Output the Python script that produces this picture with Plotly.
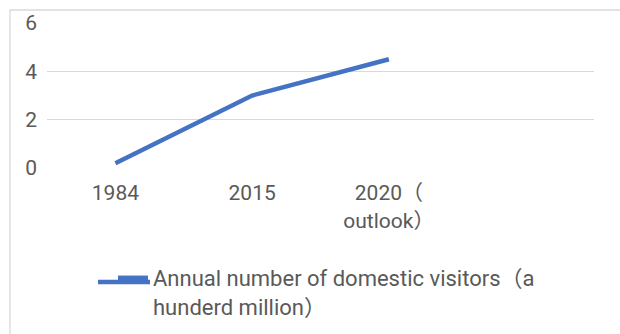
import plotly.graph_objects as go

categories = ["1984", "2015", "2020（<br>outlook）"]
values = [0.2, 3.0, 4.5]
series_name = "Annual number of domestic visitors（a<br>hunderd million）"
y_ticks = [0, 2, 4, 6]

x_idx = list(range(len(categories)))

FONT = "Roboto, Noto Sans CJK SC, sans-serif"
GREY = "#595959"
BLUE = "#4472C4"

fig = go.Figure()
fig.add_trace(go.Scatter(
    x=x_idx, y=values, mode="lines", name=series_name,
    line=dict(color=BLUE, width=4.5),
))

L, R, T, B = 47, 26, 23, 166
pw = 620 - L - R
ph = 334 - T - B

def px_x(x):
    return (x - L) / pw

def px_y(y):
    return (334 - B - y) / ph

fig.update_layout(
    width=620, height=334,
    margin=dict(l=L, r=R, t=T, b=B, pad=0, autoexpand=False),
    paper_bgcolor="white", plot_bgcolor="white",
    font=dict(family=FONT, color=GREY, size=21),
    showlegend=True,
    legend=dict(
        x=px_x(113), y=px_y(257),
        xanchor="left", yanchor="top", valign="top",
        font=dict(size=22, family=FONT, color=GREY),
        bgcolor="rgba(0,0,0,0)",
        tracegroupgap=0,
    ),
    xaxis=dict(
        range=[-0.5, 3.5], tickmode="array", tickvals=x_idx, ticktext=categories,
        showgrid=False, zeroline=False, showline=False, automargin=False,
        ticks="outside", ticklen=6, tickcolor="rgba(0,0,0,0)",
        tickfont=dict(size=21), tickangle=0,
    ),
    yaxis=dict(
        range=[0, 6], tickmode="array", tickvals=y_ticks,
        showgrid=True, gridcolor="#d9d9d9", gridwidth=1.3, automargin=False,
        zeroline=False, showline=False, ticks="", ticklabelstandoff=9,
        tickfont=dict(size=21),
    ),
    shapes=[
        dict(
            type="rect", xref="paper", yref="paper",
            x0=px_x(10), x1=px_x(640),
            y0=px_y(400), y1=px_y(10),
            line=dict(color="#d9d9d9", width=1.3), fillcolor="rgba(0,0,0,0)",
            layer="below",
        ),
        dict(
            type="line", xref="paper", yref="paper",
            x0=px_x(98), x1=px_x(150), y0=px_y(282), y1=px_y(282),
            line=dict(color=BLUE, width=4.5),
        ),
    ],
)

fig.write_html("out.html")
